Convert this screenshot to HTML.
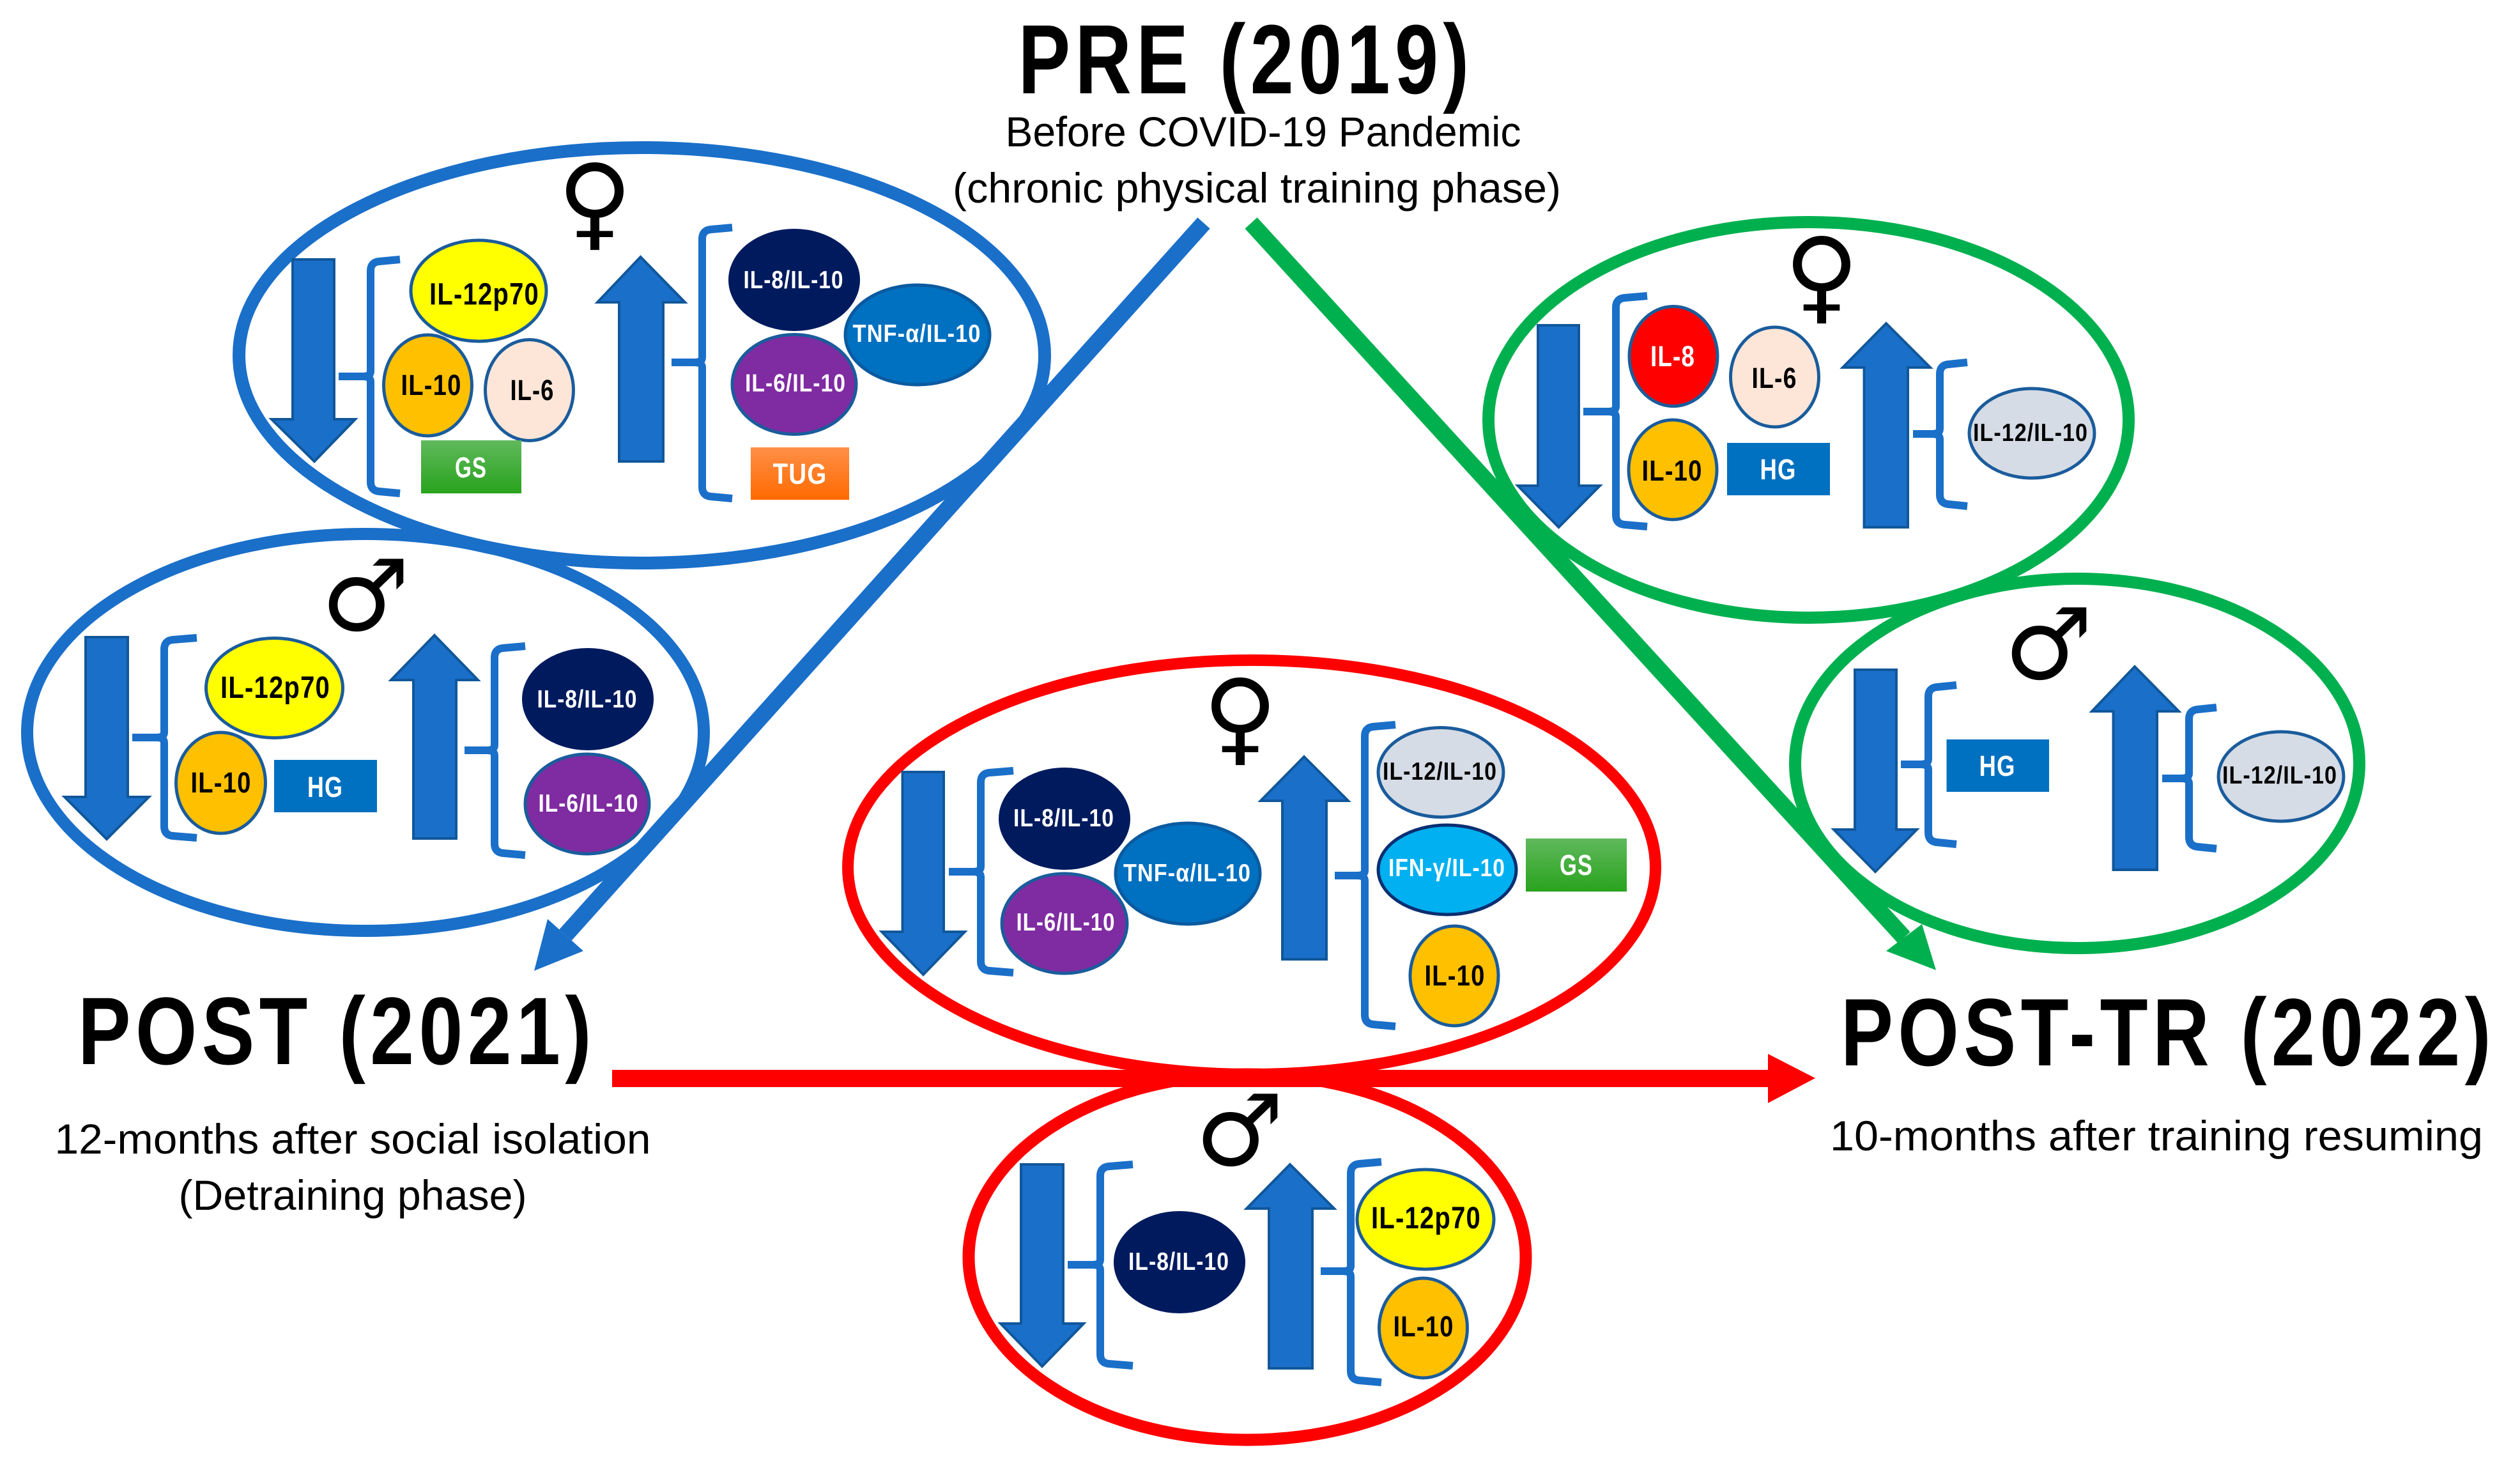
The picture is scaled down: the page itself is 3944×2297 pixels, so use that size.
<!DOCTYPE html>
<html><head><meta charset="utf-8"><style>
html,body{margin:0;padding:0;background:#fff}
svg{display:block}
text{font-family:"Liberation Sans",sans-serif;text-anchor:middle}
.t{font-weight:700;fill:#000;letter-spacing:.06em}
.w{font-weight:700;fill:#fff;letter-spacing:.03em}
.k{font-weight:700;fill:#000;letter-spacing:.03em}
.s{fill:#000}
.sym{font-family:"DejaVu Sans",sans-serif;fill:#000}
.ar{fill:#1a6fc9;stroke:#10579a;stroke-width:4}
.br{fill:none;stroke:#1a6fc9;stroke-width:12}
.n{stroke:#1a5c9c;stroke-width:5}
</style></head><body>
<svg xmlns="http://www.w3.org/2000/svg" width="3944" height="2297" viewBox="0 0 3944 2297">
<defs>
<linearGradient id="g" x1="0" y1="0" x2="0" y2="1"><stop offset="0" stop-color="#60b95c"/><stop offset="1" stop-color="#29a31d"/></linearGradient>
<linearGradient id="o" x1="0" y1="0" x2="0" y2="1"><stop offset="0" stop-color="#ff8f47"/><stop offset="1" stop-color="#ff6a00"/></linearGradient>
</defs>
<rect width="3944" height="2297" fill="#fff"/>

<!-- connectors -->
<line x1="1884" y1="349" x2="885" y2="1463" stroke="#1a6fc9" stroke-width="26"/>
<polygon points="836,1519 857,1438 913,1488" fill="#1a6fc9"/>
<line x1="1958" y1="349" x2="2980" y2="1467" stroke="#00b04f" stroke-width="26"/>
<polygon points="3030,1518 2952,1488 3008,1446" fill="#00b04f"/>

<!-- big outlines -->
<ellipse cx="1004.5" cy="556" rx="630.5" ry="325" fill="none" stroke="#1a6fc9" stroke-width="20"/>
<ellipse cx="572" cy="1146" rx="529.5" ry="310.5" fill="none" stroke="#1a6fc9" stroke-width="19"/>
<ellipse cx="2830.5" cy="657" rx="501" ry="309.5" fill="none" stroke="#00b04f" stroke-width="19"/>
<ellipse cx="3251" cy="1194.5" rx="441.5" ry="289" fill="none" stroke="#00b04f" stroke-width="19"/>
<ellipse cx="1959" cy="1357" rx="632" ry="324" fill="none" stroke="#ff0000" stroke-width="18"/>
<ellipse cx="1952" cy="1967" rx="436" ry="286" fill="none" stroke="#ff0000" stroke-width="19"/>

<polygon points="958,1674 2767,1674 2767,1649 2841,1687 2767,1726 2767,1701 958,1701" fill="#ff0000"/>

<!-- titles -->
<text class="t" x="1950" y="146" font-size="154" textLength="713" lengthAdjust="spacingAndGlyphs">PRE (2019)</text>
<text class="s" x="1977" y="229" font-size="66" textLength="807" lengthAdjust="spacingAndGlyphs">Before COVID-19 Pandemic</text>
<text class="s" x="1967" y="317" font-size="66" textLength="952" lengthAdjust="spacingAndGlyphs">(chronic physical training phase)</text>
<text class="t" x="527.5" y="1665" font-size="150" textLength="811" lengthAdjust="spacingAndGlyphs">POST (2021)</text>
<text class="s" x="552" y="1805" font-size="66" textLength="933" lengthAdjust="spacingAndGlyphs">12-months after social isolation</text>
<text class="s" x="552" y="1893" font-size="66" textLength="545" lengthAdjust="spacingAndGlyphs">(Detraining phase)</text>
<text class="t" x="3393.5" y="1667" font-size="150" textLength="1025" lengthAdjust="spacingAndGlyphs">POST-TR (2022)</text>
<text class="s" x="3375" y="1800" font-size="66" textLength="1022" lengthAdjust="spacingAndGlyphs">10-months after training resuming</text>

<!-- ===== Blue female ===== -->
<text class="sym" x="931" y="371" font-size="160">♀</text>
<polygon class="ar" points="458,406 523,406 523,656 556,656 492,722 425,656 458,656"/>
<path class="br" d="M626 406L594 409Q580 410 580 424V581Q580 589 568 589H530M568 589Q580 589 580 597V754Q580 768 594 769L626 772"/>
<ellipse class="n" cx="749" cy="455" rx="106" ry="79" fill="#ffff00"/>
<ellipse class="n" cx="669.5" cy="603" rx="69" ry="79" fill="#ffc000"/>
<ellipse class="n" cx="828.5" cy="610.5" rx="69" ry="79" fill="#fde6d8"/>
<rect x="659" y="689" width="157" height="83" fill="url(#g)"/>
<text class="k" x="758" y="476.5" font-size="48" textLength="172" lengthAdjust="spacingAndGlyphs">IL-12p70</text>
<text class="k" x="675" y="618" font-size="45" textLength="95" lengthAdjust="spacingAndGlyphs">IL-10</text>
<text class="k" x="833" y="626" font-size="45" textLength="69" lengthAdjust="spacingAndGlyphs">IL-6</text>
<text class="w" x="737" y="747" font-size="45" textLength="50" lengthAdjust="spacingAndGlyphs">GS</text>
<polygon class="ar" points="1002.5,402 1072,473 1038,473 1038,722 969,722 969,473 935,473"/>
<path class="br" d="M1146 356L1113 359Q1099 360 1099 374V559Q1099 567 1087 567H1051M1087 567Q1099 567 1099 575V762Q1099 776 1113 777L1146 780"/>
<ellipse cx="1243" cy="438" rx="103" ry="80" fill="#001a5e"/>
<ellipse class="n" cx="1436" cy="524" rx="113" ry="78" fill="#0070c0" style="stroke:#0b5aa0"/>
<ellipse class="n" cx="1243" cy="601.5" rx="97" ry="78" fill="#7f2ba1"/>
<rect x="1175" y="700" width="154" height="82" fill="url(#o)"/>
<text class="w" x="1242" y="451" font-size="39" textLength="157" lengthAdjust="spacingAndGlyphs">IL-8/IL-10</text>
<text class="w" x="1435" y="535" font-size="39" textLength="201" lengthAdjust="spacingAndGlyphs">TNF-α/IL-10</text>
<text class="w" x="1245" y="612.5" font-size="39" textLength="158" lengthAdjust="spacingAndGlyphs">IL-6/IL-10</text>
<text class="w" x="1252" y="757" font-size="45" textLength="85" lengthAdjust="spacingAndGlyphs">TUG</text>

<!-- ===== Blue male ===== -->
<text class="sym" x="572" y="986" font-size="155">♂</text>
<polygon class="ar" points="134,997 200,997 200,1247 233,1247 167,1313 101,1247 134,1247"/>
<path class="br" d="M308 998L271 1001Q257 1002 257 1016V1146Q257 1154 245 1154H207M245 1154Q257 1154 257 1162V1293Q257 1307 271 1308L308 1311"/>
<ellipse class="n" cx="429.5" cy="1076.5" rx="107" ry="78" fill="#ffff00"/>
<ellipse class="n" cx="345.5" cy="1225" rx="70" ry="79" fill="#ffc000"/>
<rect x="429" y="1189" width="161" height="82" fill="#0070c0"/>
<text class="k" x="431" y="1092" font-size="48" textLength="172" lengthAdjust="spacingAndGlyphs">IL-12p70</text>
<text class="k" x="346" y="1240" font-size="45" textLength="95" lengthAdjust="spacingAndGlyphs">IL-10</text>
<text class="w" x="509" y="1247" font-size="45" textLength="56" lengthAdjust="spacingAndGlyphs">HG</text>
<polygon class="ar" points="680,994 748,1064 714,1064 714,1312 647,1312 647,1064 612,1064"/>
<path class="br" d="M822 1011L788 1014Q774 1015 774 1029V1166Q774 1174 762 1174H727M762 1174Q774 1174 774 1182V1320Q774 1334 788 1335L822 1338"/>
<ellipse cx="920" cy="1094" rx="103" ry="80" fill="#001a5e"/>
<ellipse class="n" cx="919" cy="1258" rx="97" ry="78" fill="#7f2ba1"/>
<text class="w" x="919" y="1107" font-size="39" textLength="157" lengthAdjust="spacingAndGlyphs">IL-8/IL-10</text>
<text class="w" x="921" y="1270" font-size="39" textLength="157" lengthAdjust="spacingAndGlyphs">IL-6/IL-10</text>

<!-- ===== Green female ===== -->
<text class="sym" x="2851" y="486" font-size="160">♀</text>
<polygon class="ar" points="2407,509 2471,509 2471,760 2504,760 2439.5,825 2375.5,760 2407,760"/>
<path class="br" d="M2578 463L2543 466Q2529 467 2529 481V636Q2529 644 2517 644H2478M2517 644Q2529 644 2529 652V806Q2529 820 2543 821L2578 824"/>
<ellipse class="n" cx="2619" cy="557.5" rx="69" ry="78" fill="#ff0000"/>
<ellipse class="n" cx="2777.5" cy="590" rx="69" ry="78" fill="#fde6d8"/>
<ellipse class="n" cx="2618" cy="735" rx="69" ry="78" fill="#ffc000"/>
<rect x="2703" y="693" width="161" height="82" fill="#0070c0"/>
<text class="w" x="2618" y="573" font-size="45" textLength="70" lengthAdjust="spacingAndGlyphs">IL-8</text>
<text class="k" x="2777" y="607" font-size="45" textLength="71" lengthAdjust="spacingAndGlyphs">IL-6</text>
<text class="k" x="2617" y="752" font-size="45" textLength="95" lengthAdjust="spacingAndGlyphs">IL-10</text>
<text class="w" x="2783" y="750" font-size="45" textLength="57" lengthAdjust="spacingAndGlyphs">HG</text>
<polygon class="ar" points="2952,506 3021,575 2986,575 2986,825 2917.5,825 2917.5,575 2884,575"/>
<path class="br" d="M3079 567L3050 570Q3036 571 3036 585V671Q3036 679 3024 679H2994M3024 679Q3036 679 3036 687V774Q3036 788 3050 789L3079 792"/>
<ellipse class="n" cx="3180" cy="678" rx="98" ry="70" fill="#d6dce5"/>
<text class="k" x="3178" y="690" font-size="39" textLength="180" lengthAdjust="spacingAndGlyphs">IL-12/IL-10</text>

<!-- ===== Green male ===== -->
<text class="sym" x="3206" y="1062" font-size="155">♂</text>
<polygon class="ar" points="2903,1048 2968,1048 2968,1298 3000,1298 2935,1364 2870,1298 2903,1298"/>
<path class="br" d="M3062 1072L3032 1075Q3018 1076 3018 1090V1188Q3018 1196 3006 1196H2975M3006 1196Q3018 1196 3018 1204V1303Q3018 1317 3032 1318L3062 1321"/>
<rect x="3046.5" y="1157" width="160.5" height="82" fill="#0070c0"/>
<text class="w" x="3126" y="1214" font-size="45" textLength="57" lengthAdjust="spacingAndGlyphs">HG</text>
<polygon class="ar" points="3341,1043 3410,1113 3376,1113 3376,1361 3307.5,1361 3307.5,1113 3274,1113"/>
<path class="br" d="M3469 1107L3440 1110Q3426 1111 3426 1125V1210Q3426 1218 3414 1218H3384M3414 1218Q3426 1218 3426 1226V1310Q3426 1324 3440 1325L3469 1328"/>
<ellipse class="n" cx="3570" cy="1215" rx="98" ry="70" fill="#d6dce5"/>
<text class="k" x="3568" y="1226" font-size="39" textLength="180" lengthAdjust="spacingAndGlyphs">IL-12/IL-10</text>

<!-- ===== Red female ===== -->
<text class="sym" x="1941" y="1177" font-size="160">♀</text>
<polygon class="ar" points="1412.5,1208 1477,1208 1477,1458 1510,1458 1445,1525 1380,1458 1412.5,1458"/>
<path class="br" d="M1586 1206L1549 1209Q1535 1210 1535 1224V1356Q1535 1364 1523 1364H1485M1523 1364Q1535 1364 1535 1372V1504Q1535 1518 1549 1519L1586 1522"/>
<ellipse cx="1666" cy="1281" rx="103" ry="80" fill="#001a5e"/>
<ellipse class="n" cx="1666" cy="1445" rx="98" ry="78" fill="#7f2ba1"/>
<ellipse class="n" cx="1859" cy="1367" rx="113" ry="79" fill="#0070c0" style="stroke:#0b5aa0"/>
<text class="w" x="1665" y="1293" font-size="39" textLength="158" lengthAdjust="spacingAndGlyphs">IL-8/IL-10</text>
<text class="w" x="1668" y="1456" font-size="39" textLength="155" lengthAdjust="spacingAndGlyphs">IL-6/IL-10</text>
<text class="w" x="1858" y="1379" font-size="39" textLength="200" lengthAdjust="spacingAndGlyphs">TNF-α/IL-10</text>
<polygon class="ar" points="2041,1184 2110,1253 2076,1253 2076,1501 2007,1501 2007,1253 1973,1253"/>
<path class="br" d="M2184 1134L2150 1137Q2136 1138 2136 1152V1362Q2136 1370 2124 1370H2089M2124 1370Q2136 1370 2136 1378V1588Q2136 1602 2150 1603L2184 1606"/>
<ellipse class="n" cx="2255" cy="1208.5" rx="98" ry="70" fill="#d6dce5"/>
<ellipse cx="2265" cy="1361" rx="108" ry="70" fill="#00b0f0" stroke="#0b2f72" stroke-width="5"/>
<ellipse class="n" cx="2276" cy="1527" rx="69" ry="78" fill="#ffc000"/>
<rect x="2388" y="1312" width="158" height="83" fill="url(#g)"/>
<text class="k" x="2253.5" y="1220" font-size="39" textLength="179" lengthAdjust="spacingAndGlyphs">IL-12/IL-10</text>
<text class="w" x="2264.5" y="1371" font-size="39" textLength="183" lengthAdjust="spacingAndGlyphs">IFN-γ/IL-10</text>
<text class="k" x="2277" y="1542" font-size="45" textLength="95" lengthAdjust="spacingAndGlyphs">IL-10</text>
<text class="w" x="2467" y="1369" font-size="45" textLength="52" lengthAdjust="spacingAndGlyphs">GS</text>

<!-- ===== Red male ===== -->
<text class="sym" x="1940" y="1823" font-size="155">♂</text>
<polygon class="ar" points="1598,1822 1664,1822 1664,2071 1696,2071 1631,2138 1566,2071 1598,2071"/>
<path class="br" d="M1773 1822L1736 1825Q1722 1826 1722 1840V1971Q1722 1979 1710 1979H1671M1710 1979Q1722 1979 1722 1987V2119Q1722 2133 1736 2134L1773 2137"/>
<ellipse cx="1846" cy="1975" rx="103" ry="80" fill="#001a5e"/>
<text class="w" x="1845" y="1987" font-size="39" textLength="158" lengthAdjust="spacingAndGlyphs">IL-8/IL-10</text>
<polygon class="ar" points="2019,1822 2088,1891 2054,1891 2054,2141 1986,2141 1986,1891 1951,1891"/>
<path class="br" d="M2162 1818L2128 1821Q2114 1822 2114 1836V1981Q2114 1989 2102 1989H2067M2102 1989Q2114 1989 2114 1997V2145Q2114 2159 2128 2160L2162 2163"/>
<ellipse class="n" cx="2231" cy="1908" rx="107" ry="78" fill="#ffff00"/>
<ellipse class="n" cx="2227.5" cy="2078" rx="69" ry="78" fill="#ffc000"/>
<text class="k" x="2232" y="1922" font-size="48" textLength="172" lengthAdjust="spacingAndGlyphs">IL-12p70</text>
<text class="k" x="2228" y="2091" font-size="45" textLength="95" lengthAdjust="spacingAndGlyphs">IL-10</text>
</svg>
</body></html>
